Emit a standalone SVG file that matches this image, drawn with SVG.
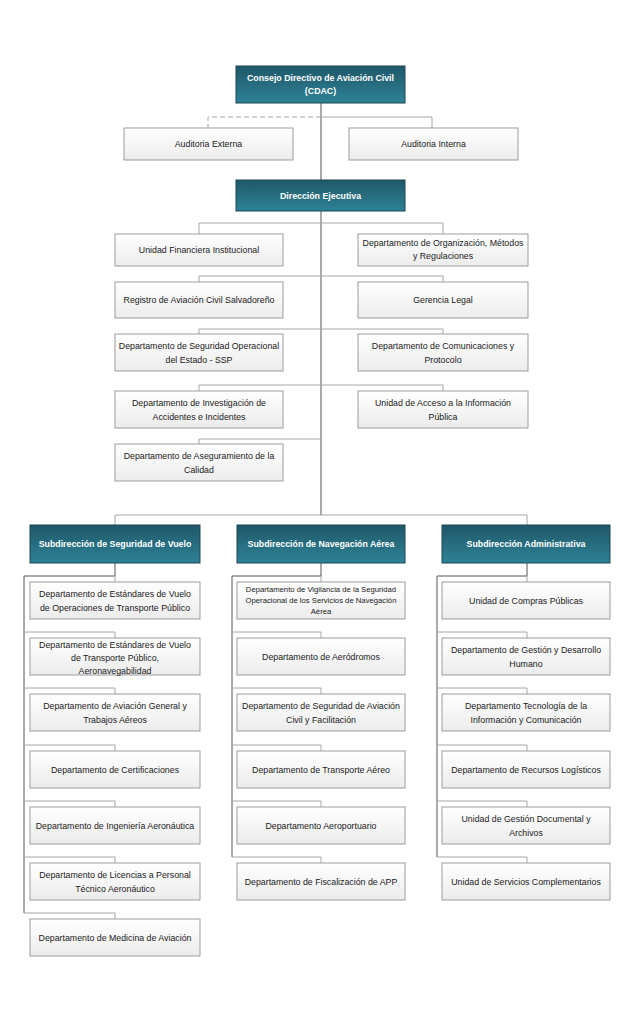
<svg xmlns="http://www.w3.org/2000/svg" width="637" height="1024" viewBox="0 0 637 1024">
<defs>
<linearGradient id="teal" x1="0" y1="0" x2="0" y2="1">
<stop offset="0" stop-color="#1f5868"/>
<stop offset="1" stop-color="#2e8296"/>
</linearGradient>
<linearGradient id="wht" x1="0" y1="0" x2="0" y2="1">
<stop offset="0" stop-color="#ffffff"/>
<stop offset="1" stop-color="#ececec"/>
</linearGradient>
</defs>
<style>
.d rect{fill:url(#teal);stroke:#1d4653;stroke-width:1}
.d text{fill:#ffffff;font-family:"Liberation Sans",Arial,sans-serif;font-size:8.8px;font-weight:bold;text-anchor:middle}
.w rect{fill:url(#wht);stroke:#9c9c9c;stroke-width:1}
.w text{fill:#1a1a1a;font-family:"Liberation Sans",Arial,sans-serif;font-size:8.8px;text-anchor:middle}
.w text.s{font-size:7.7px}
.c path{fill:none;stroke:#a6a6a6;stroke-width:1}
.c path.k{stroke:#555555}
.c path.dash{stroke-dasharray:5,3}
</style>
<rect width="637" height="1024" fill="#ffffff"/>
<g id="connectors" class="c">
<path class="k" d="M321,103 V515"/>
<path class="dash" d="M321,117 H208 V128"/>
<path d="M321,117 H432 V128"/>
<path d="M199,234 V223 H443 V234"/>
<path d="M199,282 V276 H443 V282"/>
<path d="M199,334 V329 H443 V334"/>
<path d="M199,391 V385 H443 V391"/>
<path d="M199,444 V439 H321"/>
<path d="M115,525 V515 H527 V525"/>
<path class="k" d="M115,563 V576 H24 V913"/>
<path d="M115,576 V582"/>
<path d="M24,632 H115 V638"/>
<path d="M24,688 H115 V694"/>
<path d="M24,745 H115 V751"/>
<path d="M24,801 H115 V807"/>
<path d="M24,857 H115 V863"/>
<path d="M24,913 H115 V919"/>
<path class="k" d="M321,563 V576 H232 V857"/>
<path d="M321,576 V582"/>
<path d="M232,632 H321 V638"/>
<path d="M232,688 H321 V694"/>
<path d="M232,745 H321 V751"/>
<path d="M232,801 H321 V807"/>
<path d="M232,857 H321 V863"/>
<path class="k" d="M527,563 V576 H437 V857"/>
<path d="M527,576 V582"/>
<path d="M437,632 H527 V638"/>
<path d="M437,688 H527 V694"/>
<path d="M437,745 H527 V751"/>
<path d="M437,801 H527 V807"/>
<path d="M437,857 H527 V863"/>
</g>
<g id="cdac" class="d"><rect x="236" y="66" width="169" height="37"/><text x="320.5" y="81">Consejo Directivo de Aviación Civil</text><text x="320.5" y="94">(CDAC)</text></g>
<g id="aud-ext" class="w"><rect x="124" y="128" width="169" height="32"/><text x="208.5" y="147">Auditoria Externa</text></g>
<g id="aud-int" class="w"><rect x="349" y="128" width="169" height="32"/><text x="433.5" y="147">Auditoria Interna</text></g>
<g id="dir-ejec" class="d"><rect x="236" y="180" width="169" height="31"/><text x="320.5" y="198.5">Dirección Ejecutiva</text></g>
<g id="ufi" class="w"><rect x="115" y="234" width="168" height="32"/><text x="199" y="253">Unidad Financiera Institucional</text></g>
<g id="domr" class="w"><rect x="358" y="234" width="170" height="32"/><text x="443" y="246">Departamento de Organización, Métodos</text><text x="443" y="259">y Regulaciones</text></g>
<g id="racs" class="w"><rect x="115" y="282" width="168" height="36"/><text x="199" y="303">Registro de Aviación Civil Salvadoreño</text></g>
<g id="legal" class="w"><rect x="358" y="282" width="170" height="36"/><text x="443" y="303">Gerencia Legal</text></g>
<g id="ssp" class="w"><rect x="115" y="334" width="168" height="37"/><text x="199" y="348.5">Departamento de Seguridad Operacional</text><text x="199" y="362.5">del Estado - SSP</text></g>
<g id="com" class="w"><rect x="358" y="334" width="170" height="37"/><text x="443" y="348.5">Departamento de Comunicaciones y</text><text x="443" y="362.5">Protocolo</text></g>
<g id="inv" class="w"><rect x="115" y="391" width="168" height="37"/><text x="199" y="405.5">Departamento de Investigación de</text><text x="199" y="419.5">Accidentes e Incidentes</text></g>
<g id="uaip" class="w"><rect x="358" y="391" width="170" height="37"/><text x="443" y="405.5">Unidad de Acceso a la Información</text><text x="443" y="419.5">Pública</text></g>
<g id="calidad" class="w"><rect x="115" y="444" width="168" height="37"/><text x="199" y="458.5">Departamento de Aseguramiento de la</text><text x="199" y="472.5">Calidad</text></g>
<g id="sub-vuelo" class="d"><rect x="30" y="525" width="170" height="38"/><text x="115" y="547">Subdirección de Seguridad de Vuelo</text></g>
<g id="sub-nav" class="d"><rect x="237" y="525" width="168" height="38"/><text x="321" y="547">Subdirección de Navegación Aérea</text></g>
<g id="sub-adm" class="d"><rect x="442" y="525" width="168" height="38"/><text x="526" y="547">Subdirección Administrativa</text></g>
<g id="v1" class="w"><rect x="30" y="582" width="170" height="37"/><text x="115" y="596.5">Departamento de Estándares de Vuelo</text><text x="115" y="610.5">de Operaciones de Transporte Público</text></g>
<g id="v2" class="w"><rect x="30" y="638" width="170" height="37"/><text x="115" y="648">Departamento de Estándares de Vuelo</text><text x="115" y="661">de Transporte Público,</text><text x="115" y="674">Aeronavegabilidad</text></g>
<g id="v3" class="w"><rect x="30" y="694" width="170" height="37"/><text x="115" y="708.5">Departamento de Aviación General y</text><text x="115" y="722.5">Trabajos Aéreos</text></g>
<g id="v4" class="w"><rect x="30" y="751" width="170" height="37"/><text x="115" y="772.5">Departamento de Certificaciones</text></g>
<g id="v5" class="w"><rect x="30" y="807" width="170" height="37"/><text x="115" y="828.5">Departamento de Ingeniería Aeronáutica</text></g>
<g id="v6" class="w"><rect x="30" y="863" width="170" height="37"/><text x="115" y="877.5">Departamento de Licencias a Personal</text><text x="115" y="891.5">Técnico Aeronáutico</text></g>
<g id="v7" class="w"><rect x="30" y="919" width="170" height="37"/><text x="115" y="940.5">Departamento de Medicina de Aviación</text></g>
<g id="n1" class="w"><rect x="237" y="582" width="168" height="37"/><text class="s" x="321" y="592">Departamento de Vigilancia de la Seguridad</text><text class="s" x="321" y="603">Operacional de los Servicios de Navegación</text><text class="s" x="321" y="614">Aérea</text></g>
<g id="n2" class="w"><rect x="237" y="638" width="168" height="37"/><text x="321" y="659.5">Departamento de Aeródromos</text></g>
<g id="n3" class="w"><rect x="237" y="694" width="168" height="37"/><text x="321" y="708.5">Departamento de  Seguridad de Aviación</text><text x="321" y="722.5">Civil y Facilitación</text></g>
<g id="n4" class="w"><rect x="237" y="751" width="168" height="37"/><text x="321" y="772.5">Departamento de Transporte Aéreo</text></g>
<g id="n5" class="w"><rect x="237" y="807" width="168" height="37"/><text x="321" y="828.5">Departamento Aeroportuario</text></g>
<g id="n6" class="w"><rect x="237" y="863" width="168" height="37"/><text x="321" y="884.5">Departamento de Fiscalización de APP</text></g>
<g id="a1" class="w"><rect x="442" y="582" width="168" height="37"/><text x="526" y="603.5">Unidad de Compras Públicas</text></g>
<g id="a2" class="w"><rect x="442" y="638" width="168" height="37"/><text x="526" y="652.5">Departamento de Gestión y Desarrollo</text><text x="526" y="666.5">Humano</text></g>
<g id="a3" class="w"><rect x="442" y="694" width="168" height="37"/><text x="526" y="708.5">Departamento Tecnología de la</text><text x="526" y="722.5">Información y Comunicación</text></g>
<g id="a4" class="w"><rect x="442" y="751" width="168" height="37"/><text x="526" y="772.5">Departamento de Recursos Logísticos</text></g>
<g id="a5" class="w"><rect x="442" y="807" width="168" height="37"/><text x="526" y="821.5">Unidad de Gestión Documental y</text><text x="526" y="835.5">Archivos</text></g>
<g id="a6" class="w"><rect x="442" y="863" width="168" height="37"/><text x="526" y="884.5">Unidad de Servicios Complementarios</text></g>
</svg>
